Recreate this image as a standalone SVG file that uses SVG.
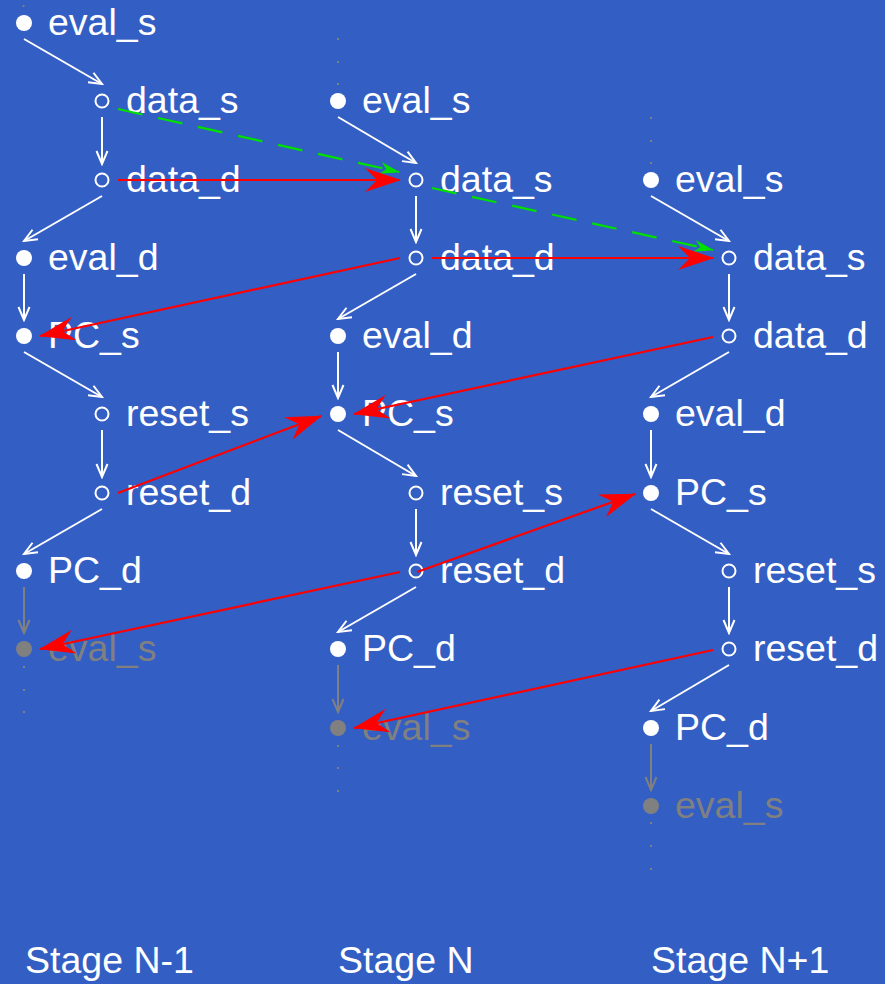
<svg xmlns="http://www.w3.org/2000/svg" width="885" height="984" viewBox="0 0 885 984">
<style>
text{font-family:"Liberation Sans",Arial,sans-serif;font-size:37.5px;fill:#ffffff}
text.g{fill:#808080}
.f{fill:#ffffff}
.o{fill:none;stroke:#ffffff;stroke-width:2}
.gd{fill:#808080}
.w{stroke:#ffffff;stroke-width:2;fill:none;marker-end:url(#mw)}
.gr{stroke:#808080;stroke-width:2;fill:none;marker-end:url(#mg)}
.r{stroke:#ff0000;stroke-width:2.2;fill:none;marker-end:url(#mr)}
.gn{stroke:#00e000;stroke-width:2.2;fill:none;stroke-dasharray:25 16;marker-end:url(#mgn)}
.dot{fill:#808080}
</style>
<defs>
<marker id="mw" markerUnits="userSpaceOnUse" viewBox="0 0 16 14" markerWidth="16" markerHeight="14" refX="14" refY="7" orient="auto"><path d="M1,1.5 L14,7 L1,12.5" fill="none" stroke="#ffffff" stroke-width="2"/></marker>
<marker id="mg" markerUnits="userSpaceOnUse" viewBox="0 0 16 14" markerWidth="16" markerHeight="14" refX="14" refY="7" orient="auto"><path d="M1,1.5 L14,7 L1,12.5" fill="none" stroke="#808080" stroke-width="2"/></marker>
<marker id="mr" markerUnits="userSpaceOnUse" viewBox="0 0 36 24" markerWidth="36" markerHeight="24" refX="35" refY="12" orient="auto"><path d="M0,0 L36,12 L0,24 L12,12 z" fill="#ff0000"/></marker>
<marker id="mgn" markerUnits="userSpaceOnUse" viewBox="0 0 20 12" markerWidth="20" markerHeight="12" refX="19" refY="6" orient="auto"><path d="M0,0 L20,6 L0,12 L6,6 z" fill="#00e000"/></marker>
</defs>
<rect x="0" y="0" width="885" height="984" fill="#335ec4"/>

<g id="dots">
<rect class="dot" x="22.5" y="5" width="2" height="2"/>
<rect class="dot" x="23" y="666" width="2" height="2"/>
<rect class="dot" x="23" y="689" width="2" height="2"/>
<rect class="dot" x="23" y="711" width="2" height="2"/>
<rect class="dot" x="337" y="38" width="2" height="2"/>
<rect class="dot" x="337" y="61" width="2" height="2"/>
<rect class="dot" x="337" y="83" width="2" height="2"/>
<rect class="dot" x="337" y="745" width="2" height="2"/>
<rect class="dot" x="337" y="767" width="2" height="2"/>
<rect class="dot" x="337" y="790" width="2" height="2"/>
<rect class="dot" x="650" y="117" width="2" height="2"/>
<rect class="dot" x="650" y="140" width="2" height="2"/>
<rect class="dot" x="650" y="162" width="2" height="2"/>
<rect class="dot" x="650" y="822" width="2" height="2"/>
<rect class="dot" x="650" y="845" width="2" height="2"/>
<rect class="dot" x="650" y="868" width="2" height="2"/>
</g>

<!-- Stage N-1 -->
<g id="n1_eval_s"><circle class="f" cx="24" cy="23" r="8"/><text x="48" y="35">eval_s</text></g>
<g id="n1_data_s"><circle class="o" cx="102" cy="101" r="6.5"/><text x="126" y="113">data_s</text></g>
<g id="n1_data_d"><circle class="o" cx="102" cy="180" r="6.5"/><text x="126" y="192">data_d</text></g>
<g id="n1_eval_d"><circle class="f" cx="24" cy="258" r="8"/><text x="48" y="270">eval_d</text></g>
<g id="n1_PC_s"><circle class="f" cx="24" cy="336" r="8"/><text x="48" y="348">PC_s</text></g>
<g id="n1_reset_s"><circle class="o" cx="102" cy="414" r="6.5"/><text x="126" y="426">reset_s</text></g>
<g id="n1_reset_d"><circle class="o" cx="102" cy="493" r="6.5"/><text x="126" y="505">reset_d</text></g>
<g id="n1_PC_d"><circle class="f" cx="24" cy="571" r="8"/><text x="48" y="583">PC_d</text></g>
<g id="n1_eval_s2"><circle class="gd" cx="24" cy="649" r="8"/><text class="g" x="48" y="661">eval_s</text></g>

<!-- Stage N -->
<g id="n_eval_s"><circle class="f" cx="338" cy="101" r="8"/><text x="362" y="113">eval_s</text></g>
<g id="n_data_s"><circle class="o" cx="416" cy="180" r="6.5"/><text x="440" y="192">data_s</text></g>
<g id="n_data_d"><circle class="o" cx="416" cy="258" r="6.5"/><text x="440" y="270">data_d</text></g>
<g id="n_eval_d"><circle class="f" cx="338" cy="336" r="8"/><text x="362" y="348">eval_d</text></g>
<g id="n_PC_s"><circle class="f" cx="338" cy="414" r="8"/><text x="362" y="426">PC_s</text></g>
<g id="n_reset_s"><circle class="o" cx="416" cy="493" r="6.5"/><text x="440" y="505">reset_s</text></g>
<g id="n_reset_d"><circle class="o" cx="416" cy="571" r="6.5"/><text x="440" y="583">reset_d</text></g>
<g id="n_PC_d"><circle class="f" cx="338" cy="649" r="8"/><text x="362" y="661">PC_d</text></g>
<g id="n_eval_s2"><circle class="gd" cx="338" cy="728" r="8"/><text class="g" x="362" y="740">eval_s</text></g>

<!-- Stage N+1 -->
<g id="p1_eval_s"><circle class="f" cx="651" cy="180" r="8"/><text x="675" y="192">eval_s</text></g>
<g id="p1_data_s"><circle class="o" cx="729" cy="258" r="6.5"/><text x="753" y="270">data_s</text></g>
<g id="p1_data_d"><circle class="o" cx="729" cy="336" r="6.5"/><text x="753" y="348">data_d</text></g>
<g id="p1_eval_d"><circle class="f" cx="651" cy="414" r="8"/><text x="675" y="426">eval_d</text></g>
<g id="p1_PC_s"><circle class="f" cx="651" cy="493" r="8"/><text x="675" y="505">PC_s</text></g>
<g id="p1_reset_s"><circle class="o" cx="729" cy="571" r="6.5"/><text x="753" y="583">reset_s</text></g>
<g id="p1_reset_d"><circle class="o" cx="729" cy="649" r="6.5"/><text x="753" y="661">reset_d</text></g>
<g id="p1_PC_d"><circle class="f" cx="651" cy="728" r="8"/><text x="675" y="740">PC_d</text></g>
<g id="p1_eval_s2"><circle class="gd" cx="651" cy="806" r="8"/><text class="g" x="675" y="818">eval_s</text></g>

<g id="labels">
<text x="25" y="973">Stage N-1</text>
<text x="338" y="973">Stage N</text>
<text x="651" y="973">Stage N+1</text>
</g>

<g id="connectors">
<line class="w" x1="24" y1="39" x2="102" y2="84"/>
<line class="w" x1="102" y1="117" x2="102" y2="164"/>
<line class="w" x1="102" y1="196" x2="24" y2="241"/>
<line class="w" x1="24" y1="274" x2="24" y2="320"/>
<line class="w" x1="24" y1="352" x2="102" y2="397"/>
<line class="w" x1="102" y1="430" x2="102" y2="477"/>
<line class="w" x1="102" y1="509" x2="24" y2="554"/>
<line class="gr" x1="24" y1="587" x2="24" y2="633"/>

<line class="w" x1="338" y1="117" x2="416" y2="163"/>
<line class="w" x1="416" y1="196" x2="416" y2="242"/>
<line class="w" x1="416" y1="274" x2="338" y2="319"/>
<line class="w" x1="338" y1="352" x2="338" y2="398"/>
<line class="w" x1="338" y1="430" x2="416" y2="476"/>
<line class="w" x1="416" y1="509" x2="416" y2="555"/>
<line class="w" x1="416" y1="587" x2="338" y2="632"/>
<line class="gr" x1="338" y1="665" x2="338" y2="712"/>

<line class="w" x1="651" y1="196" x2="729" y2="241"/>
<line class="w" x1="729" y1="274" x2="729" y2="320"/>
<line class="w" x1="729" y1="352" x2="651" y2="397"/>
<line class="w" x1="651" y1="430" x2="651" y2="477"/>
<line class="w" x1="651" y1="509" x2="729" y2="554"/>
<line class="w" x1="729" y1="587" x2="729" y2="633"/>
<line class="w" x1="729" y1="665" x2="651" y2="711"/>
<line class="gr" x1="651" y1="744" x2="651" y2="790"/>

<line class="gn" x1="118" y1="109" x2="399" y2="172"/>
<line class="gn" x1="432" y1="188" x2="713" y2="250"/>

<line class="r" x1="118" y1="180" x2="400" y2="180"/>
<line class="r" x1="432" y1="258" x2="713" y2="258"/>
<line class="r" x1="400" y1="258" x2="40" y2="336"/>
<line class="r" x1="713" y1="337" x2="354" y2="414"/>
<line class="r" x1="118" y1="493" x2="321" y2="416"/>
<line class="r" x1="400" y1="572" x2="40" y2="649"/>
<line class="r" x1="417" y1="572" x2="635" y2="494"/>
<line class="r" x1="713" y1="650" x2="354" y2="728"/>
</g>
</svg>
